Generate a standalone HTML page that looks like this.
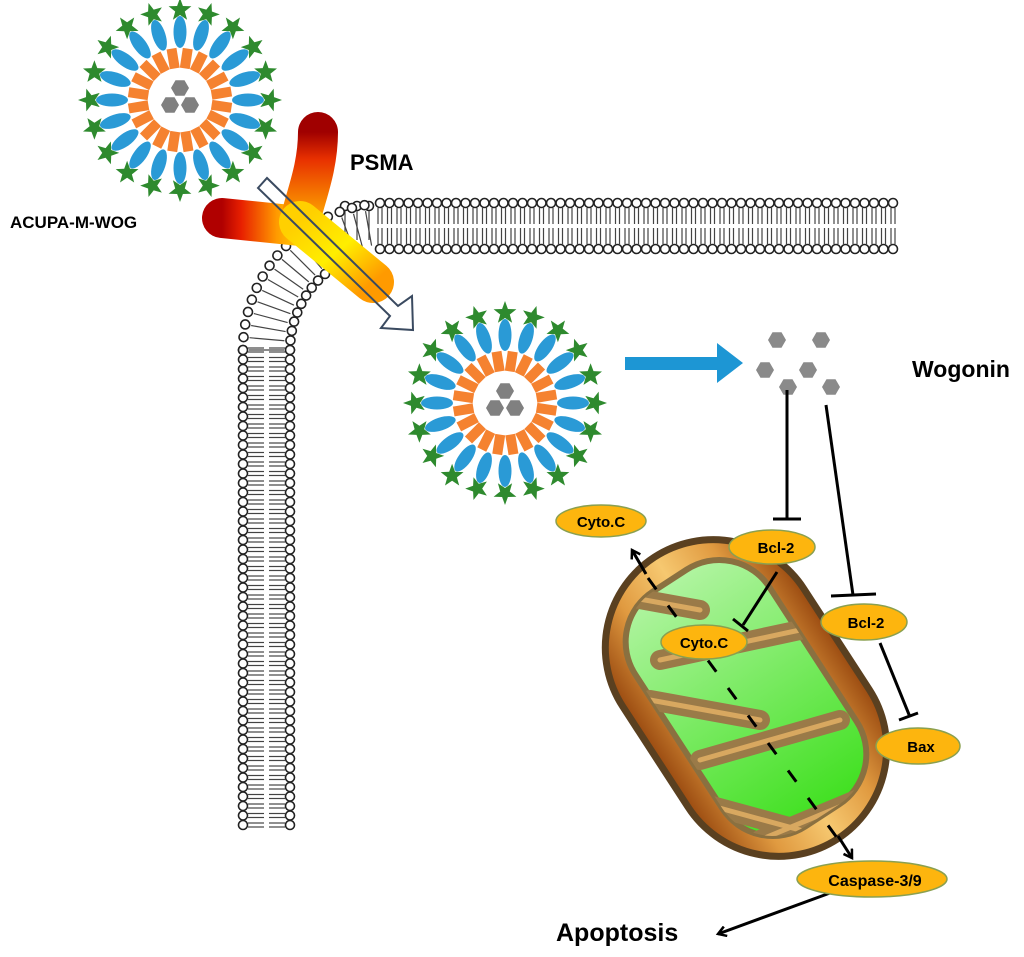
<!DOCTYPE html>
<html><head><meta charset="utf-8">
<style>
html,body{margin:0;padding:0;background:#fff;}
svg{display:block;}
text{font-family:"Liberation Sans",Arial,sans-serif;font-weight:bold;}
</style></head>
<body>
<svg id="s" width="1024" height="957" viewBox="0 0 1024 957" xmlns="http://www.w3.org/2000/svg">
<defs>
<linearGradient id="armL" x1="0" y1="0" x2="1" y2="0">
<stop offset="0" stop-color="#b00000"/><stop offset="0.25" stop-color="#e82000"/><stop offset="0.7" stop-color="#ff9a00"/><stop offset="1" stop-color="#ffd000"/></linearGradient>
<linearGradient id="armT" x1="0" y1="0" x2="0" y2="1">
<stop offset="0" stop-color="#a00000"/><stop offset="0.3" stop-color="#e83000"/><stop offset="1" stop-color="#ffb000"/></linearGradient>
<linearGradient id="stem" x1="0" y1="0" x2="1" y2="1">
<stop offset="0" stop-color="#ffd000"/><stop offset="0.5" stop-color="#ffee00"/><stop offset="1" stop-color="#ff9a00"/></linearGradient>
<linearGradient id="mito" x1="0" y1="0" x2="0" y2="1">
<stop offset="0" stop-color="#9a4a10"/><stop offset="0.25" stop-color="#e09a40"/><stop offset="0.5" stop-color="#f6c870"/><stop offset="0.75" stop-color="#e09a40"/><stop offset="1" stop-color="#9a4a10"/></linearGradient>
<linearGradient id="grn" x1="0" y1="0" x2="1" y2="0">
<stop offset="0" stop-color="#b0f4a0"/><stop offset="1" stop-color="#40e020"/></linearGradient>
<clipPath id="mc"><rect x="-140" y="-80" width="280" height="160" rx="60" transform="translate(746,698) rotate(57)"/></clipPath>
<marker id="ah" markerWidth="12" markerHeight="12" refX="9" refY="6" orient="auto" markerUnits="userSpaceOnUse">
<path d="M1,1 L9,6 L1,11" fill="none" stroke="#000" stroke-width="2.5"/></marker>
</defs>
<g id="mem"></g>
<g id="np"></g>
<path d="M222,218 L300,226" stroke="url(#armL)" stroke-width="40" stroke-linecap="round" fill="none"/>
<path d="M318,132 C318,170 304,200 300,222" stroke="url(#armT)" stroke-width="40" stroke-linecap="round" fill="none"/>
<path d="M300,222 L373,282" stroke="url(#stem)" stroke-width="42" stroke-linecap="round" fill="none"/>
<path d="M258,188 L267,178 L398,306 L412,296 L413,330 L381,328 L390,316 Z" fill="none" stroke="#3a4a60" stroke-width="2"/>
<text x="350" y="170" font-size="22">PSMA</text>
<text x="10" y="228" font-size="17">ACUPA-M-WOG</text>
<path d="M625,357 L717,357 L717,343 L743,363 L717,383 L717,370 L625,370 Z" fill="#1d96d4"/>
<g id="wog"></g>
<text x="912" y="377" font-size="23">Wogonin</text>
<g transform="translate(746,698) rotate(57)">
<rect x="-168" y="-108" width="336" height="216" rx="108" fill="url(#mito)" stroke="#5a4020" stroke-width="7"/>
<rect x="-140" y="-80" width="280" height="160" rx="60" fill="url(#grn)" stroke="#8a7040" stroke-width="6"/>
</g>
<g clip-path="url(#mc)" stroke-linecap="round" fill="none">
<g stroke="#9a7a48" stroke-width="20">
<path d="M590,590 L700,610"/><path d="M660,660 L800,630"/><path d="M650,700 L760,720"/><path d="M700,760 L840,720"/><path d="M690,800 L800,830"/><path d="M760,840 L880,790"/>
</g>
<g stroke="#d8a860" stroke-width="5">
<path d="M590,590 L700,610"/><path d="M660,660 L800,630"/><path d="M650,700 L760,720"/><path d="M700,760 L840,720"/><path d="M690,800 L800,830"/><path d="M760,840 L880,790"/>
</g>
</g>
<path d="M648,578 L843,846" stroke="#000" stroke-width="3" stroke-dasharray="14,20" fill="none"/>
<path d="M646,574 L632,550" stroke="#000" stroke-width="3" fill="none" marker-end="url(#ah)"/>
<path d="M838,836 L852,858" stroke="#000" stroke-width="3" fill="none" marker-end="url(#ah)"/>
<g stroke="#000" stroke-width="3" fill="none">
<path d="M787,390 L787,519"/><path d="M773,519 L801,519"/>
<path d="M826,405 L853,595"/><path d="M831,596 L876,594"/>
<path d="M777,572 L743,625"/><path d="M733,619 L748,631"/>
<path d="M880,643 L910,717"/><path d="M899,720 L918,713"/>
<path d="M830,893 L718,934" marker-end="url(#ah)"/>
</g>
<g fill="#fdb50e" stroke="#8aa050" stroke-width="1.5">
<ellipse cx="601" cy="521" rx="45" ry="16"/>
<ellipse cx="772" cy="547" rx="43" ry="17"/>
<ellipse cx="704" cy="642" rx="43" ry="17"/>
<ellipse cx="864" cy="622" rx="43" ry="18"/>
<ellipse cx="918" cy="746" rx="42" ry="18"/>
<ellipse cx="872" cy="879" rx="75" ry="18"/>
</g>
<g font-size="15" text-anchor="middle">
<text x="601" y="527">Cyto.C</text>
<text x="776" y="553">Bcl-2</text>
<text x="704" y="648">Cyto.C</text>
<text x="866" y="628">Bcl-2</text>
<text x="921" y="752">Bax</text>
<text x="875" y="886" font-size="16">Caspase-3/9</text>
</g>
<text x="556" y="941" font-size="25">Apoptosis</text>
</svg>
<script>
var NS="http://www.w3.org/2000/svg";
function el(p,t,a){var e=document.createElementNS(NS,t);for(var k in a)e.setAttribute(k,a[k]);p.appendChild(e);return e;}
function hex(p,cx,cy,r,fill){var pts=[];for(var i=0;i<6;i++){var a=Math.PI/3*i;pts.push((cx+r*Math.cos(a)).toFixed(1)+","+(cy+r*Math.sin(a)).toFixed(1));}el(p,"polygon",{points:pts.join(" "),fill:fill});}
function star(p,cx,cy,R,r,rot){var pts=[];for(var i=0;i<10;i++){var a=rot+Math.PI/5*i;var rr=i%2?r:R;pts.push((cx+rr*Math.cos(a)).toFixed(1)+","+(cy+rr*Math.sin(a)).toFixed(1));}el(p,"polygon",{points:pts.join(" "),fill:"#2e8a2e"});}
var np=document.getElementById("np");
function nano(cx,cy){
 var g=el(np,"g",{});
 var N=20;
 for(var i=0;i<N;i++){var a=2*Math.PI*i/N;var deg=a*180/Math.PI;
  var x=cx+Math.cos(a)*68,y=cy+Math.sin(a)*68;
  el(g,"ellipse",{cx:x,cy:y,rx:16,ry:6.5,fill:"#2a9ad6",transform:"rotate("+deg+" "+x+" "+y+")"});
  var sx=cx+Math.cos(a)*90,sy=cy+Math.sin(a)*90;
  star(g,sx,sy,12,5,a);
 }
 for(var i=0;i<N;i++){var a=2*Math.PI*i/N+0.15;var deg=a*180/Math.PI;
  var x=cx+Math.cos(a)*42,y=cy+Math.sin(a)*42;
  el(g,"rect",{x:x-10,y:y-5,width:20,height:10,fill:"#f58230",transform:"rotate("+deg+" "+x+" "+y+")"});
 }
 el(g,"circle",{cx:cx,cy:cy,r:31,fill:"#fff"});
 hex(g,cx,cy-12,9,"#808080");hex(g,cx-10,cy+5,9,"#808080");hex(g,cx+10,cy+5,9,"#808080");
}
nano(180,100);nano(505,403);
var w=document.getElementById("wog");
[[777,340],[821,340],[765,370],[808,370],[788,387],[831,387]].forEach(function(p){hex(w,p[0],p[1],9,"#8a8a8a");});
var m=document.getElementById("mem");
function head(x,y){el(m,"circle",{cx:x,cy:y,r:4.5,fill:"#fff",stroke:"#222","stroke-width":1.6});}
function tail(x1,y1,x2,y2){el(m,"path",{d:"M"+x1+","+y1+" L"+x2+","+y2,stroke:"#444","stroke-width":1.2,fill:"none"});}
for(var x=380;x<=893;x+=9.5){head(x,203);head(x,249);tail(x-2,208,x-2,224);tail(x+2,208,x+2,224);tail(x-2,228,x-2,244);tail(x+2,228,x+2,244);}
for(var x=345;x<380;x+=12){head(x,206);tail(x,211,x,240);}
for(var y=350;y<=830;y+=9.5){head(243,y);head(290,y);tail(248,y-2,264,y-2);tail(248,y+2,264,y+2);tail(269,y-2,285,y-2);tail(269,y+2,285,y+2);}
var cx=390,cy=350;
for(var a=180;a<=262;a+=5){var r=a*Math.PI/180;head(cx+147*Math.cos(r),cy+147*Math.sin(r));tail(cx+141*Math.cos(r),cy+141*Math.sin(r),cx+106*Math.cos(r),cy+106*Math.sin(r));}
for(var a=180;a<=240;a+=5.5){var r=a*Math.PI/180;head(cx+100*Math.cos(r),cy+100*Math.sin(r));}
</script>
</body></html>
